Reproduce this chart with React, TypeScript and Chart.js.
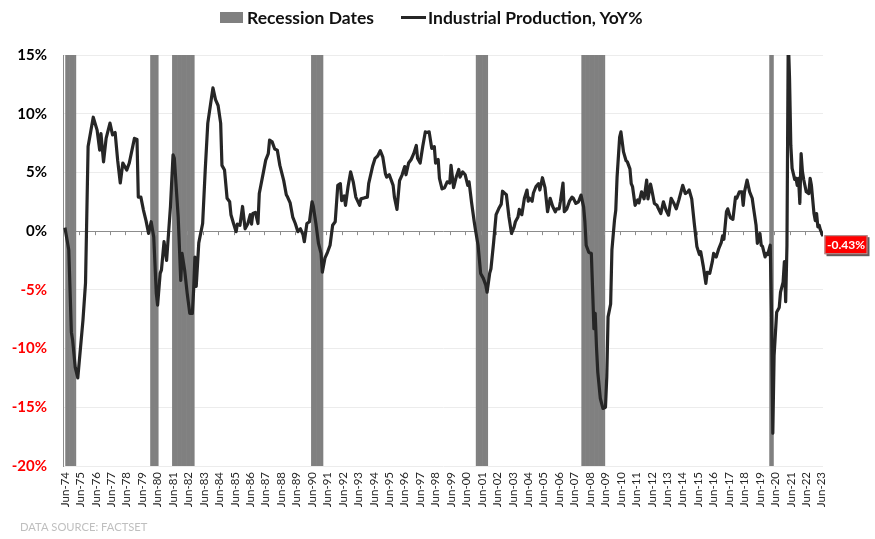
import React, { useEffect, useRef } from 'react';
import { Chart, registerables } from 'chart.js';

Chart.register(...registerables);
Chart.defaults.font.family = 'Lato, "Open Sans", sans-serif';

// x-axis tick labels, one every 12 months starting Jun-1974
const tickLabels = [
  'Jun-74', 'Jun-75', 'Jun-76', 'Jun-77', 'Jun-78', 'Jun-79', 'Jun-80', 'Jun-81', 'Jun-82', 'Jun-83',
  'Jun-84', 'Jun-85', 'Jun-86', 'Jun-87', 'Jun-88', 'Jun-89', 'Jun-90', 'Jun-91', 'Jun-92', 'Jun-93',
  'Jun-94', 'Jun-95', 'Jun-96', 'Jun-97', 'Jun-98', 'Jun-99', 'Jun-00', 'Jun-01', 'Jun-02', 'Jun-03',
  'Jun-04', 'Jun-05', 'Jun-06', 'Jun-07', 'Jun-08', 'Jun-09', 'Jun-10', 'Jun-11', 'Jun-12', 'Jun-13',
  'Jun-14', 'Jun-15', 'Jun-16', 'Jun-17', 'Jun-18', 'Jun-19', 'Jun-20', 'Jun-21', 'Jun-22', 'Jun-23',
];

const yTickValues = [-20, -15, -10, -5, 0, 5, 10, 15];

// recession months (months since Jun-1974), first and last month of each band
const recessionStartMonth = [1, 67, 84, 192, 320, 402, 548];
const recessionEndMonth = [8, 72, 100, 200, 328, 419, 550];

// Industrial production YoY %, month index = months since Jun-1974
const ipMonth = [
  0, 3, 5, 6, 8, 10, 14, 16, 18, 22,
  25, 27, 28, 30, 32, 35, 37, 39, 41, 43,
  45, 48, 50, 54, 56, 57, 59, 61, 63, 65,
  67, 69, 71, 72, 74, 75, 77, 79, 82, 84,
  85, 88, 90, 91, 93, 95, 97, 99, 100, 101,
  102, 104, 107, 109, 111, 113, 115, 117, 119, 121,
  122, 124, 126, 128, 129, 131, 133, 134, 136, 138,
  140, 142, 144, 145, 146, 148, 150, 151, 154, 156,
  158, 159, 161, 163, 165, 167, 170, 172, 173, 175,
  177, 179, 181, 183, 185, 186, 188, 190, 192, 193,
  195, 197, 199, 200, 202, 204, 206, 208, 210, 212,
  214, 215, 217, 218, 220, 222, 224, 226, 229, 230,
  233, 235, 236, 239, 241, 243, 245, 247, 249, 250,
  252, 255, 256, 258, 260, 262, 264, 265, 267, 269,
  271, 273, 274, 276, 278, 280, 281, 283, 285, 287,
  288, 290, 291, 293, 295, 297, 299, 300, 302, 304,
  306, 307, 309, 311, 313, 314, 316, 318, 319, 321,
  323, 325, 327, 328, 330, 331, 333, 335, 337, 339,
  340, 342, 343, 345, 347, 349, 350, 352, 353, 355,
  357, 359, 360, 361, 363, 364, 366, 368, 369, 371,
  373, 375, 377, 379, 381, 382, 384, 385, 387, 388,
  390, 392, 394, 395, 397, 399, 401, 403, 404, 405,
  407, 409, 410, 411, 412, 413, 414, 416, 418, 420,
  421, 422, 424, 425, 427, 428, 429, 431, 432, 434,
  436, 437, 439, 440, 441, 443, 445, 446, 448, 450,
  452, 453, 455, 456, 458, 460, 461, 463, 465, 467,
  469, 471, 473, 475, 477, 478, 480, 482, 484, 485,
  487, 489, 491, 493, 494, 496, 498, 499, 501, 503,
  504, 506, 508, 510, 511, 512, 514, 515, 517, 519,
  521, 522, 524, 526, 527, 528, 530, 532, 534, 535,
  537, 538, 540, 541, 542, 544, 545, 546, 548, 549,
  550, 551, 553, 555, 556, 558, 559, 560, 561, 562,
  563, 564, 565, 567, 568, 569, 570, 571, 572, 573,
  574, 576, 578, 579, 580, 582, 583, 584, 585, 586,
  587, 589,
];

const ipValue = [
  0.3, -1.6, -8.6, -9.3, -11.6, -12.5, -7.6, -4.4, 7.2, 9.7,
  8.6, 6.9, 8.3, 5.9, 7.9, 9.2, 8.2, 8.4, 6.0, 4.1,
  5.8, 5.2, 5.8, 7.9, 7.8, 2.9, 2.9, 1.8, 0.9, -0.2,
  0.8, -0.5, -5.3, -6.3, -3.6, -3.3, -0.9, -2.5, 2.1, 6.5,
  6.2, 1.2, -4.2, -1.9, -3.3, -5.3, -7.0, -7.0, -5.0, -2.2,
  -4.7, -1.0, 0.65, 5.2, 9.2, 10.7, 12.2, 11.2, 10.7, 9.2,
  5.6, 5.2, 2.8, 2.5, 1.4, 0.65, -0.05, 0.6, 0.5, 2.1,
  0.2, 0.6, 1.4, 0.6, 1.5, 1.6, 0.65, 3.2, 4.9, 6.05,
  6.6, 7.75, 7.6, 7.0, 6.9, 5.6, 4.3, 3.1, 2.9, 2.4,
  1.2, 0.65, -0.05, 0.2, -0.3, -0.9, 0.65, 0.8, 2.5, 2.1,
  0.65, -1.05, -1.9, -3.5, -2.3, -1.8, -1.2, 0.5, 0.8, 3.9,
  4.05, 2.6, 3.0, 2.2, 3.8, 5.05, 4.2, 2.9, 2.2, 2.75,
  2.85, 2.9, 4.05, 5.5, 6.2, 6.4, 6.85, 6.3, 4.9, 4.6,
  4.8, 3.9, 2.9, 1.85, 4.3, 4.8, 5.5, 4.8, 5.8, 6.1,
  6.6, 7.3, 6.2, 5.8, 7.2, 8.45, 8.4, 8.45, 7.05, 7.2,
  5.8, 6.1, 4.5, 3.6, 3.7, 4.2, 4.1, 5.6, 3.7, 4.6,
  5.25, 4.6, 5.05, 4.8, 3.9, 4.2, 2.4, 0.8, 0.1, -1.2,
  -3.6, -4.0, -4.6, -5.2, -3.6, -3.2, -1.05, 1.4, 1.9, 2.3,
  3.4, 3.2, 3.1, 1.2, -0.2, 0.35, 0.8, 1.2, 1.85, 1.4,
  2.8, 3.5, 2.55, 2.8, 2.55, 3.25, 3.8, 4.05, 3.5, 4.55,
  3.7, 1.65, 2.8, 2.1, 1.65, 1.9, 1.9, 2.55, 4.1, 1.65,
  1.9, 2.55, 2.9, 2.8, 2.36, 2.5, 3.07, 2.07, 0.8, -1.2,
  -1.8, -1.9, -5.0, -8.3, -7.0, -9.85, -12.0, -14.25, -15.1, -15.0,
  -12.4, -7.3, -6.2, -1.6, 0.94, 1.8, 4.6, 8.0, 8.45, 6.75,
  6.0, 5.9, 5.3, 4.05, 3.8, 2.2, 2.65, 2.4, 3.35, 2.75,
  4.35, 2.75, 4.0, 3.5, 2.36, 2.2, 1.95, 1.5, 2.5, 1.8,
  1.36, 2.8, 2.4, 1.9, 2.65, 3.07, 3.9, 3.2, 3.35, 3.5,
  2.75, 0.65, -1.3, -2.0, -1.75, -3.0, -4.45, -3.5, -3.6, -2.6,
  -1.9, -2.2, -1.5, -0.95, -0.4, -0.7, 1.65, 1.9, 1.15, 1.0,
  2.9, 2.8, 3.35, 3.35, 2.2, 3.35, 4.35, 3.35, 2.8, 2.0,
  0.5, -1.05, -0.2, -1.2, -1.3, -2.2, -1.9, -2.0, -1.2, -6.9,
  -17.2, -10.6, -6.9, -6.5, -5.2, -4.35, -2.6, -6.0, -1.2, 16.5,
  13.0, 7.3, 5.35, 4.4, 4.5, 3.9, 4.5, 2.36, 6.6, 5.1,
  4.4, 3.35, 3.2, 4.5, 3.9, 1.5, 0.9, 1.5, 0.37, 0.5,
  0.1, -0.43,
];

// small tick marks on the zero line (months since Jun-1974)
const zeroTickMonths = tickLabels.map((_, i) => 11 + i * 12).filter((m) => m < 589);

const GREY = '#808080';
const LINE = '#262626';

export default function App() {
  const ref = useRef<HTMLCanvasElement | null>(null);

  useEffect(() => {
    if (!ref.current) return;

    const recessionData: { x: number; y: number[] }[] = [];
    recessionStartMonth.forEach((s, i) => {
      for (let m = s; m <= recessionEndMonth[i]; m++) recessionData.push({ x: m, y: [-20, 15] });
    });
    const lineData = ipMonth.map((m, i) => ({ x: m, y: ipValue[i] }));

    const overlay = {
      id: 'overlay',
      afterDatasetDraw(chart: any, args: any) {
        if (args.index !== 0) return;
        const { ctx, scales } = chart;
        const y0 = scales.y.getPixelForValue(0);
        ctx.save();
        ctx.strokeStyle = '#8c8c8c';
        ctx.lineWidth = 1;
        ctx.beginPath();
        zeroTickMonths.forEach((m) => {
          const x = Math.round(scales.x.getPixelForValue(m)) + 0.5;
          ctx.moveTo(x, y0);
          ctx.lineTo(x, y0 + 4);
        });
        ctx.stroke();
        ctx.restore();
      },
      afterDraw(chart: any) {
        const { ctx, scales, chartArea } = chart;
        const last = ipValue[ipValue.length - 1];
        const y = scales.y.getPixelForValue(last);
        const bx = chartArea.right + 1.5;
        const bw = 43;
        const bh = 19;
        const by = y - 1;
        ctx.save();
        ctx.fillStyle = 'rgba(40,40,40,0.75)';
        ctx.fillRect(bx + 2, by + 2, bw, bh);
        ctx.fillStyle = '#ff0000';
        ctx.fillRect(bx, by, bw, bh);
        ctx.strokeStyle = '#a0a0a0';
        ctx.lineWidth = 1;
        ctx.strokeRect(bx + 0.5, by + 0.5, bw - 1, bh - 1);
        ctx.fillStyle = '#ffffff';
        ctx.font = 'bold 12px Lato, "Open Sans", sans-serif';
        ctx.textAlign = 'center';
        ctx.textBaseline = 'middle';
        ctx.fillText(last.toFixed(2) + '%', bx + bw / 2, by + bh / 2 + 0.5);

        ctx.fillStyle = '#bfbfbf';
        ctx.font = '11.2px Lato, "Open Sans", sans-serif';
        ctx.textAlign = 'left';
        ctx.textBaseline = 'alphabetic';
        ctx.fillText('DATA SOURCE: FACTSET', 20, 531);
        ctx.restore();
      },
    };

    const chart = new Chart(ref.current, {
      type: 'line',
      data: {
        datasets: [
          {
            type: 'bar',
            label: 'Recession Dates',
            data: recessionData as any,
            backgroundColor: GREY,
            borderWidth: 0,
            barPercentage: 1,
            categoryPercentage: 1,
            order: 2,
          } as any,
          {
            type: 'line',
            label: 'Industrial Production, YoY%',
            data: lineData,
            borderColor: LINE,
            backgroundColor: LINE,
            borderWidth: 3.2,
            borderJoinStyle: 'round',
            pointRadius: 0,
            tension: 0,
            order: 1,
          },
        ],
      },
      options: {
        animation: false,
        responsive: true,
        maintainAspectRatio: false,
        events: [],
        layout: { padding: { top: 55, right: 52, bottom: 0, left: 0 } },
        plugins: {
          legend: { display: false },
          tooltip: { enabled: false },
        },
        scales: {
          x: {
            type: 'linear',
            min: -1.5,
            max: 589,
            offset: false,
            grid: { display: false, drawTicks: false },
            border: { display: false },
            afterBuildTicks: (s: any) => {
              s.ticks = tickLabels.map((_, i) => ({ value: i * 12 }));
            },
            afterFit: (s: any) => {
              s.height = 73;
            },
            ticks: {
              autoSkip: false,
              minRotation: 90,
              maxRotation: 90,
              padding: 6,
              color: '#262626',
              font: { size: 11.5 },
              callback: (_v: any, i: number) => tickLabels[i],
            },
          },
          y: {
            min: -20,
            max: 15,
            afterBuildTicks: (s: any) => {
              s.ticks = yTickValues.map((v) => ({ value: v }));
            },
            afterFit: (s: any) => {
              s.width = 63;
            },
            grid: {
              drawTicks: false,
              lineWidth: 1,
              color: (c: any) => (c.tick && c.tick.value === 0 ? '#8c8c8c' : '#ececec'),
            },
            border: { display: true, color: '#8c8c8c' },
            ticks: {
              padding: 16,
              font: { size: 15, weight: 'bold' },
              color: (c: any) => (c.tick && c.tick.value < 0 ? '#ff0000' : '#000000'),
              callback: (v: any) => v + '%',
            },
          },
        },
      } as any,
      plugins: [overlay],
    });

    return () => chart.destroy();
  }, []);

  return (
    <div style={{ position: 'absolute', left: 0, top: 0, width: 875, height: 539, background: '#fff' }}>
      <div
        style={{
          position: 'absolute',
          left: 220,
          top: 7,
          display: 'flex',
          alignItems: 'center',
          whiteSpace: 'nowrap',
          font: 'bold 17.5px Lato, "Open Sans", sans-serif',
          lineHeight: '21px',
          color: '#111111',
          zIndex: 1,
        }}
      >
        <span style={{ display: 'inline-block', width: 23, height: 11, background: GREY, marginRight: 4 }} />
        <span>Recession Dates</span>
        <span style={{ display: 'inline-block', width: 25, height: 3, background: LINE, marginLeft: 27, marginRight: 2 }} />
        <span>Industrial Production, YoY%</span>
      </div>
      <div style={{ position: 'relative', width: 875, height: 539 }}>
        <canvas ref={ref} />
      </div>
    </div>
  );
}
